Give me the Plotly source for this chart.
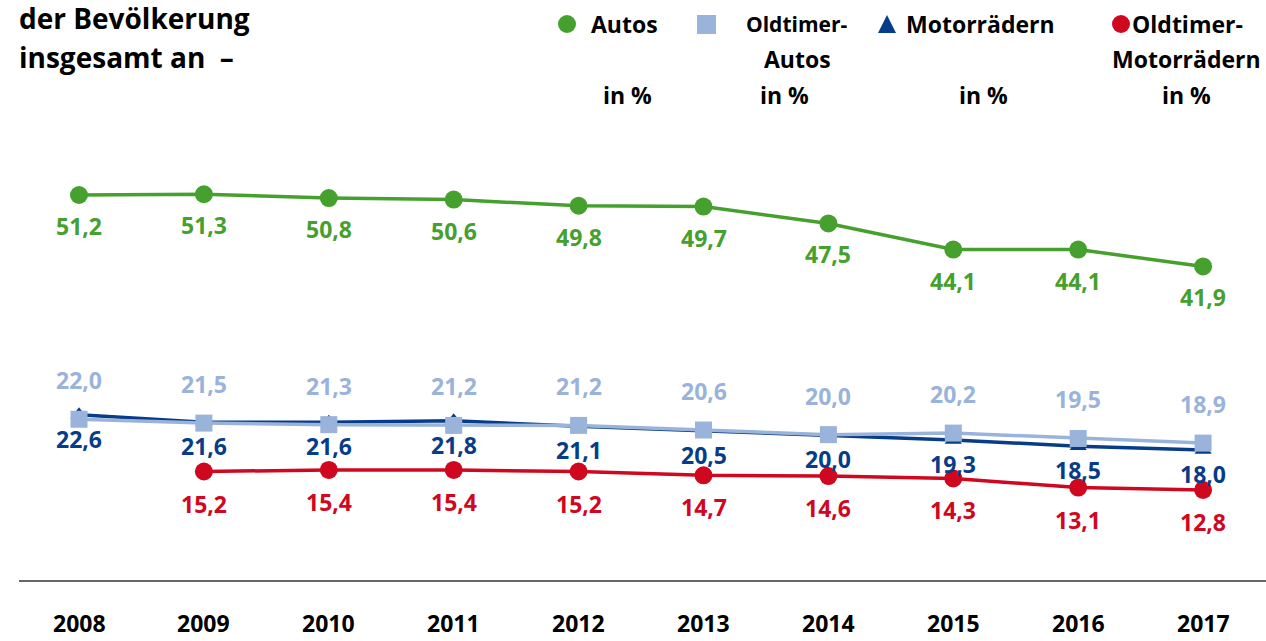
import plotly.graph_objects as go

years = [2008, 2009, 2010, 2011, 2012, 2013, 2014, 2015, 2016, 2017]
autos = [51.2, 51.3, 50.8, 50.6, 49.8, 49.7, 47.5, 44.1, 44.1, 41.9]
oldtimer_autos = [22.0, 21.5, 21.3, 21.2, 21.2, 20.6, 20.0, 20.2, 19.5, 18.9]
motorraeder = [22.6, 21.6, 21.6, 21.8, 21.1, 20.5, 20.0, 19.3, 18.5, 18.0]
oldtimer_motor_years = [2009, 2010, 2011, 2012, 2013, 2014, 2015, 2016, 2017]
oldtimer_motor = [15.2, 15.4, 15.4, 15.2, 14.7, 14.6, 14.3, 13.1, 12.8]

GREEN = "#45a02d"
LIGHT = "#9ab3da"
DARK = "#073c88"
RED = "#d0081f"
FONT = "Open Sans"

W, H = 1266, 641

def fmt(v):
    return f"{v:.1f}".replace(".", ",")

fig = go.Figure()

series = [
    (years, motorraeder, DARK, "triangle-up", 15, 24),
    (years, oldtimer_autos, LIGHT, "square", 17, -39),
    (oldtimer_motor_years, oldtimer_motor, RED, "circle", 18, 32),
    (years, autos, GREEN, "circle", 18, 31),
]

annotations = []
for xs, ys, col, sym, ms, shift in series:
    fig.add_trace(go.Scatter(
        x=xs, y=ys, mode="lines+markers",
        line=dict(color=col, width=3.5),
        marker=dict(color=col, size=ms, symbol=sym),
        showlegend=False, hoverinfo="skip", cliponaxis=False,
    ))
    for x, y in zip(xs, ys):
        annotations.append(dict(
            x=x, y=y, xref="x", yref="y", text=f"<b>{fmt(y)}</b>",
            showarrow=False, yshift=-shift, font=dict(family=FONT, size=23, color=col),
        ))

def px(x):
    return x / W

def py(y):
    return 1 - y / H

# x tick labels
for x in years:
    annotations.append(dict(
        x=x, y=py(623), xref="x", yref="paper", yanchor="middle",
        text=f"<b>{x}</b>", showarrow=False,
        font=dict(family=FONT, size=23, color="#000000"),
    ))

# title
for txt, y in [("der Bevölkerung", 18), ("insgesamt an  –", 57)]:
    annotations.append(dict(
        x=px(17), y=py(y), xref="paper", yref="paper", xanchor="left", yanchor="middle",
        text=f"<b>{txt}</b>", showarrow=False,
        font=dict(family=FONT, size=28, color="#000000"),
    ))

# legend texts
legend_texts = [
    ("Autos", 589, 24, "left", 23),
    ("in %", 627, 95, "center", 23),
    ("Oldtimer-", 797, 24, "center", 21),
    ("Autos", 797, 59, "center", 23),
    ("in %", 784, 95, "center", 23),
    ("Motorrädern", 904, 24, "left", 23),
    ("in %", 983, 95, "center", 23),
    ("Oldtimer-", 1130, 24, "left", 23),
    ("Motorrädern", 1186, 59, "center", 23),
    ("in %", 1186, 95, "center", 23),
]
for txt, x, y, anc, sz in legend_texts:
    annotations.append(dict(
        x=px(x), y=py(y), xref="paper", yref="paper", xanchor=anc, yanchor="middle",
        text=f"<b>{txt}</b>", showarrow=False,
        font=dict(family=FONT, size=sz, color="#000000"),
    ))

shapes = [
    # baseline
    dict(type="line", xref="paper", yref="paper", x0=px(19), x1=1, y0=py(581), y1=py(581),
         line=dict(color="#333333", width=1.5)),
    # legend markers
    dict(type="circle", xref="paper", yref="paper", x0=px(558), x1=px(576), y0=py(33), y1=py(15),
         fillcolor=GREEN, line=dict(width=0)),
    dict(type="rect", xref="paper", yref="paper", x0=px(697), x1=px(716), y0=py(34), y1=py(15),
         fillcolor=LIGHT, line=dict(width=0)),
    dict(type="path", xref="paper", yref="paper",
         path=f"M {px(878)} {py(33)} L {px(896)} {py(33)} L {px(887)} {py(15)} Z",
         fillcolor=DARK, line=dict(width=0)),
    dict(type="circle", xref="paper", yref="paper", x0=px(1112), x1=px(1130), y0=py(33), y1=py(15),
         fillcolor=RED, line=dict(width=0)),
]

fig.update_layout(
    width=W, height=H,
    margin=dict(l=0, r=0, t=0, b=0),
    paper_bgcolor="white", plot_bgcolor="white",
    xaxis=dict(range=[2007.3675, 2017.5036], visible=False, fixedrange=True),
    yaxis=dict(range=[-6.87, 76.59], visible=False, fixedrange=True),
    annotations=annotations,
    shapes=shapes,
    showlegend=False,
)

fig.write_html(
    "out.html",
    config={"displayModeBar": False},
    post_script="document.body.style.margin='0';document.body.style.padding='0';document.body.style.overflow='hidden';",
)
